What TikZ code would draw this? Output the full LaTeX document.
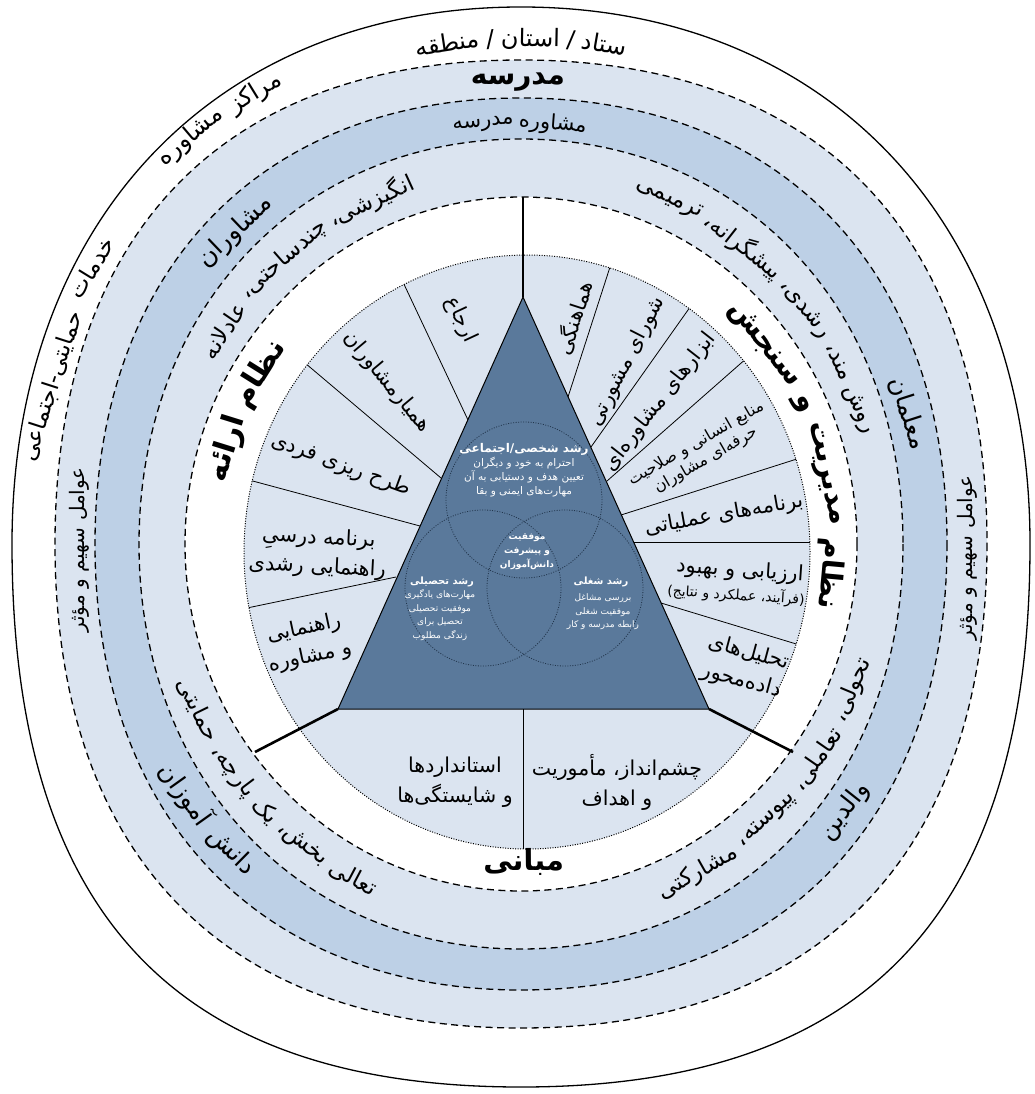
\documentclass[tikz,border=0pt]{standalone}
\usepackage{fontspec}
\usetikzlibrary{calc}
\newfontfamily\fa[Script=Arabic]{DejaVu Sans}
\TeXXeTstate=1
\newcommand\RL[1]{\beginR#1\endR}
\definecolor{lb}{HTML}{DBE4F0}
\definecolor{mb}{HTML}{BDD0E6}
\definecolor{tri}{HTML}{5A799B}
\definecolor{vline}{HTML}{22364D}
\newcommand\FS[2]{\fa\fontsize{#1}{#2}\selectfont}
\newcommand\FB[2]{\fa\bfseries\fontsize{#1}{#2}\selectfont}
\tikzset{
 t/.style={inner sep=0pt, outer sep=0pt},
 hb/.style={t, font=\FB{28}{32}},
 h4/.style={t, font=\FS{20}{24}},
 h5/.style={t, font=\FS{25}{29}},
 hb3/.style={t, font=\FB{29}{33}},
 sl/.style={t, font=\FS{21}{29}},
 ssl/.style={t, font=\FS{16}{19}},
 sssl/.style={t, font=\FS{14}{16}},
 sl2/.style={t, font=\FS{20.5}{30}},
 vt1/.style={t, text=white, font=\FB{12}{15}},
 vt1b/.style={t, text=white, font=\FB{10}{13}},
 vt2/.style={t, text=white, font=\FS{10.5}{14}},
 vt2b/.style={t, text=white, font=\FS{9}{13.5}},
 vt3/.style={t, text=white, font=\FB{9}{14}},
 ring/.style={draw=black, line width=1.3pt, dash pattern=on 7pt off 4.5pt},
 segline/.style={draw=black, line width=0.8pt},
 heavy/.style={draw=black, line width=2.6pt},
 dotring/.style={draw=black, line width=1pt, dash pattern=on 1pt off 1.5pt},
 venn/.style={draw=vline, line width=0.8pt, dash pattern=on 1pt off 1.5pt},
}
% single word on a ring: #1 name, #2 angle, #3 rx, #4 ry, #5 bulge, #6 style, #7 text
\newcommand\ow[7]{\pgfmathsetmacro\aws{1+#5*sin(2*#2)^2}\node[#6, rotate={#2-90}] (#1) at ({521+#3*\aws*cos(#2)},{544-#4*\aws*sin(#2)}) {\RL{#7}};}
\newcommand\iw[7]{\pgfmathsetmacro\aws{1+#5*sin(2*#2)^2}\node[#6, rotate={#2+90}] (#1) at ({521+#3*\aws*cos(#2)},{544-#4*\aws*sin(#2)}) {\RL{#7}};}
% measuring words (outside the picture)
\newdimen\awtot
\newcommand\premeasure[3]{%
  \expandafter\gdef\csname awfont#1\endcsname{#2}%
  \setbox0\hbox{#2\ }\expandafter\xdef\csname awgap#1\endcsname{\the\wd0}%
  \global\awtot=0pt
  \foreach \w [count=\i] in {#3}{%
    \setbox0\hbox{#2\RL{\w}}%
    \expandafter\xdef\csname aww#1@\i\endcsname{\the\wd0}%
    \expandafter\xdef\csname awtxt#1@\i\endcsname{\w}%
    \expandafter\xdef\csname awn#1\endcsname{\i}%
    \global\advance\awtot by \wd0
    \global\advance\awtot by \csname awgap#1\endcsname\relax}%
  \global\advance\awtot by -\csname awgap#1\endcsname\relax
  \expandafter\xdef\csname awtot#1\endcsname{\the\awtot}%
}
% laying out measured words: #1 prefix, #2 mid angle, #3 rx, #4 ry, #5 bulge, #6 +1 outward / -1 inward
\newcommand\awlayout[6]{%
  \edef\awN{\csname awn#1\endcsname}%
  \edef\awT{\csname awtot#1\endcsname}%
  \edef\awG{\csname awgap#1\endcsname}%
  \pgfmathsetmacro\awr{(#3+#4)/2}%
  \pgfmathsetmacro\awstart{#2-(#6)*\awT/2/\awr*180/pi}%
  \xdef\awcur{\awstart}%
  \foreach \i in {1,...,\awN}{%
    \edef\awW{\csname aww#1@\i\endcsname}%
    \pgfmathsetmacro\awh{\awW/2/\awr*180/pi}%
    \pgfmathsetmacro\awa{\awcur+(#6)*\awh}%
    \pgfmathsetmacro\awrot{\awa-(#6)*90}%
    \pgfmathsetmacro\aws{1+#5*sin(2*\awa)^2}%
    \node[t, font=\csname awfont#1\endcsname, rotate=\awrot] (#1\i) at ({521+#3*\aws*cos(\awa)},{544-#4*\aws*sin(\awa)}) {\RL{\csname awtxt#1@\i\endcsname}};
    \pgfmathsetmacro\awn{\awcur+(#6)*(2*\awh+\awG/\awr*180/pi)}%
    \xdef\awcur{\awn}%
  }%
}
\begin{document}%
\premeasure{st}{\FS{24}{28}}{ستاد,/,استان,/,منطقه}%
\premeasure{mk}{\FS{24}{28}}{مراکز,مشاوره}%
\premeasure{kh}{\FS{23}{27}}{خدمات,حمایتی-اجتماعی}%
\premeasure{m}{\FS{21}{25}}{مشاوره,مدرسه}%
\premeasure{dan}{\FS{25}{29}}{دانش,آموزان}%
\premeasure{ang}{\FS{23}{27}}{انگیزشی،,چندساحتی،,عادلانه}%
\premeasure{rav}{\FS{23}{27}}{روش مند،,رشدی،,پیشگرانه،,ترمیمی}%
\premeasure{tah}{\FS{23}{27}}{تحولی،,تعاملی،,پیوسته،,مشارکتی}%
\premeasure{taa}{\FS{23}{27}}{تعالی,بخش،,یک,پارچه،,حمایتی}%
\premeasure{nz}{\FB{30}{34}}{نظام,ارائه}%
\premeasure{nm}{\FB{29}{33}}{نظام,مدیریت,و,سنجش}%
\begin{tikzpicture}[x=1pt,y=-1pt]
\fill[white] (0,0) rectangle (1034,1094);
\useasboundingbox (0,0) rectangle (1034,1094);
\coordinate (C) at (521,544);
\coordinate (D) at (527,552);
% band fills
\fill[lb] (987,544) .. controls (987,853.8) and (819.2,1028) .. (521,1028)
  .. controls (222.8,1028) and (55,853.8) .. (55,544)
  .. controls (55,234.2) and (222.8,60) .. (521,60)
  .. controls (819.2,60) and (987,234.2) .. (987,544) -- cycle;
\fill[mb] (947,544) .. controls (947,817.2) and (781.9,990) .. (521,990)
  .. controls (260.1,990) and (95,817.2) .. (95,544)
  .. controls (95,270.8) and (260.1,98) .. (521,98)
  .. controls (781.9,98) and (947,270.8) .. (947,544) -- cycle;
\fill[lb] (903,544) .. controls (903,778.9) and (742.6,949) .. (521,949)
  .. controls (299.4,949) and (139,778.9) .. (139,544)
  .. controls (139,309.1) and (299.4,139) .. (521,139)
  .. controls (742.6,139) and (903,309.1) .. (903,544) -- cycle;
\fill[white] (C) ellipse [x radius=336pt, y radius=347pt];
\fill[lb] (D) ellipse [x radius=283pt, y radius=297pt];
% segment lines
\begin{scope}
\clip (D) ellipse [x radius=283pt, y radius=297pt];
\foreach \ax/\ay/\bx/\by in {468/420/402/280, 441/478/305/363, 420/526/249/480, 396/577/247/608,
  568/397/610/267, 591/447/688/310, 607/481/748/357, 621/515/800/458, 634/542/810/542, 661/603/793/643,
  523/709/523/860}
  \draw[segline] (\ax,\ay) -- ($(\ax,\ay)!1.4!(\bx,\by)$);
\end{scope}
% triangle
\coordinate (A) at (523,297);
\coordinate (BL) at (338,709);
\coordinate (BR) at (709,709);
\filldraw[fill=tri, draw=black, line width=1pt] (A) -- (BL) -- (BR) -- cycle;
% ring outlines
\draw[dotring] (D) ellipse [x radius=283pt, y radius=297pt];
\draw[ring] (987,544) .. controls (987,853.8) and (819.2,1028) .. (521,1028)
  .. controls (222.8,1028) and (55,853.8) .. (55,544)
  .. controls (55,234.2) and (222.8,60) .. (521,60)
  .. controls (819.2,60) and (987,234.2) .. (987,544) -- cycle;
\draw[ring] (947,544) .. controls (947,817.2) and (781.9,990) .. (521,990)
  .. controls (260.1,990) and (95,817.2) .. (95,544)
  .. controls (95,270.8) and (260.1,98) .. (521,98)
  .. controls (781.9,98) and (947,270.8) .. (947,544) -- cycle;
\draw[ring] (903,544) .. controls (903,778.9) and (742.6,949) .. (521,949)
  .. controls (299.4,949) and (139,778.9) .. (139,544)
  .. controls (139,309.1) and (299.4,139) .. (521,139)
  .. controls (742.6,139) and (903,309.1) .. (903,544) -- cycle;
\draw[ring] (C) ellipse [x radius=336pt, y radius=347pt];
\draw[line width=1.3pt] (1030,544) .. controls (1030,913.2) and (867.1,1087) .. (521,1087)
  .. controls (174.9,1087) and (12,913.2) .. (12,544)
  .. controls (12,221.8) and (215.6,7) .. (521,7)
  .. controls (826.4,7) and (1030,221.8) .. (1030,544) -- cycle;
% heavy lines
\coordinate (TT) at (523,197);
\coordinate (TL) at (255,752);
\coordinate (TR) at (793,752);
\draw[heavy] (A) -- (TT);
\draw[heavy] (BL) -- (TL);
\draw[heavy] (BR) -- (TR);
% venn
\draw[venn] (524,500) circle [radius=78pt];
\draw[venn] (483,588) circle [radius=78pt];
\draw[venn] (565,588) circle [radius=78pt];
\node[vt1] (v1) at (524,449) {\RL{رشد شخصی/اجتماعی}};
\node[vt2, align=center] (v1b) at (524,477) {\RL{احترام به خود و دیگران}\\\RL{تعیین هدف و دستیابی به آن}\\\RL{مهارت^^^^200cهای ایمنی و بقا}};
\node[vt3, align=center] (v0) at (527,552) {\RL{موفقیت}\\\RL{و پیشرفت}\\\RL{دانش^^^^200cآموزان}};
\node[vt1b] (v2) at (442,582) {\RL{رشد تحصیلی}};
\node[vt2b, align=center] (v2b) at (440,615) {\RL{مهارت^^^^200cهای یادگیری}\\\RL{موفقیت تحصیلی}\\\RL{تحصیل برای}\\\RL{زندگی مطلوب}};
\node[vt1b] (v3) at (601,582) {\RL{رشد شغلی}};
\node[vt2b, align=center] (v3b) at (603,612) {\RL{بررسی مشاغل}\\\RL{موفقیت شغلی}\\\RL{رابطه مدرسه و کار}};
% outer white band
\awlayout{st}{90}{484}{505}{0.054}{1}
\awlayout{mk}{126.5}{486}{507}{0.054}{1}
\awlayout{kh}{157.8}{484}{505}{0.054}{1}
% band 1
\ow{madrese}{90.4}{446}{462}{0.039}{hb}{مدرسه}
\node[h4, rotate=90] (aw1) at (79,550) {\RL{عوامل سهیم و مؤثر}};
\node[h4, rotate=90] (aw2) at (967,558) {\RL{عوامل سهیم و مؤثر}};
% band 2
\awlayout{m}{90.2}{404}{421}{0.023}{1}
\ow{mosh}{133.7}{404}{422}{0.023}{h5}{مشاوران}
\ow{moal}{17.9}{404}{422}{0.023}{h5}{معلمان}
\iw{val}{-38.3}{404}{422}{0.023}{h5}{والدین}
\awlayout{dan}{-140}{404}{422}{0.023}{-1}
% band 3
\awlayout{ang}{129}{358}{376}{0.007}{1}
\awlayout{rav}{44}{358}{376}{0.007}{1}
\awlayout{tah}{-42.5}{358}{376}{0.007}{-1}
\awlayout{taa}{223.5}{358}{376}{0.007}{-1}
% band 4
\awlayout{nz}{155}{308}{320}{0}{1}
\awlayout{nm}{18}{310}{320}{0}{1}
\iw{mab}{-89.5}{308}{318}{0}{hb3}{مبانی}
% segment labels
\node[sl, rotate=-65] (arj) at (461,320) {\RL{ارجاع}};
\node[sl, rotate=-50] (ham) at (387,382) {\RL{همیارمشاوران}};
\node[sl, rotate=-20] (tar) at (341,465) {\RL{طرح ریزی فردی}};
\node[sl, align=center, rotate=-3] (bar) at (318,553) {\RL{برنامه درسیِ}\\\RL{راهنمایی رشدی}};
\node[sl, align=center, rotate=12] (rah) at (307,643) {\RL{راهنمایی}\\\RL{و مشاوره}};
\node[sl, rotate=72] (hmg) at (574,318) {\RL{هماهنگی}};
\node[sl, rotate=63] (shu) at (627,362) {\RL{شورای مشورتی}};
\node[sl, rotate=52] (abz) at (660,402) {\RL{ابزارهای مشاوره^^^^200cای}};
\node[ssl, align=center, rotate=30] (man) at (701,452) {\RL{منابع انسانی و صلاحیت}\\\RL{حرفه^^^^200cای مشاوران}};
\node[sl, rotate=10] (brn) at (724,515) {\RL{برنامه^^^^200cهای عملیاتی}};
\node[sl, rotate=-4] (arz) at (740,571) {\RL{ارزیابی و بهبود}};
\node[sssl, rotate=-4] (arz2) at (736,595) {\RL{(فرآیند، عملکرد و نتایج)}};
\node[sl, align=center, rotate=-15] (tahl) at (745,667) {\RL{تحلیل^^^^200cهای}\\\RL{داده^^^^200cمحور}};
\node[sl2, align=center] (est) at (455,782) {\RL{استانداردها}\\\RL{و شایستگی^^^^200cها}};
\node[sl2, align=center] (che) at (617,782) {\RL{چشم^^^^200cانداز، مأموریت}\\\RL{و اهداف}};
\end{tikzpicture}%
\end{document}
